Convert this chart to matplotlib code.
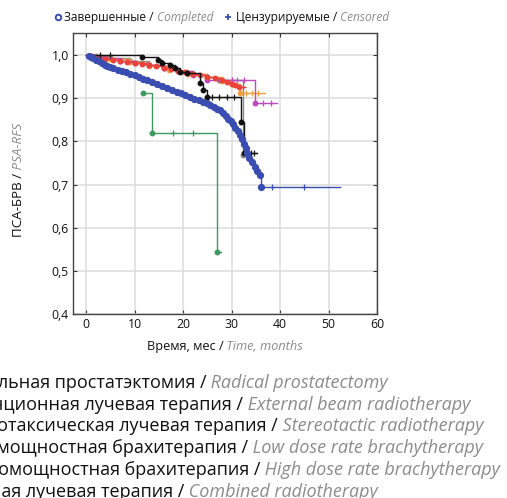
import matplotlib
matplotlib.use("Agg")
import matplotlib.pyplot as plt
from matplotlib.lines import Line2D

plt.rcParams['font.family'] = ['Open Sans', 'DejaVu Sans']

# ---------------- data ----------------
x_ticks = [0, 10, 20, 30, 40, 50, 60]
y_ticks = [0.4, 0.5, 0.6, 0.7, 0.8, 0.9, 1.0]
y_tick_labels = ["0,4", "0,5", "0,6", "0,7", "0,8", "0,9", "1,0"]

blue_t = [0.5, 1.0, 1.5, 2.0, 2.6, 3.2, 3.8, 4.4, 5.0, 5.6, 6.5, 7.4, 8.3, 9.1, 10.0,
          10.9, 11.8, 12.6, 13.6, 14.6, 15.6, 16.7, 17.7, 18.7, 19.6, 20.5, 21.4, 22.3,
          23.2, 24.1, 24.9, 25.6, 26.3, 27.0, 27.6, 28.2, 28.8, 29.3, 29.8, 30.3, 30.8,
          31.3, 31.8, 32.2, 32.6, 32.9, 33.2, 33.7, 34.2, 34.8, 35.3, 35.9, 36.0]
blue_s = [0.998, 0.995, 0.992, 0.989, 0.985, 0.981, 0.978, 0.975, 0.972, 0.969, 0.966,
          0.963, 0.960, 0.957, 0.953, 0.949, 0.945, 0.941, 0.937, 0.933, 0.929, 0.924,
          0.920, 0.915, 0.911, 0.907, 0.903, 0.899, 0.896, 0.892, 0.888, 0.884, 0.880,
          0.876, 0.872, 0.866, 0.859, 0.852, 0.846, 0.840, 0.832, 0.824, 0.815, 0.806,
          0.795, 0.784, 0.772, 0.762, 0.751, 0.741, 0.731, 0.721, 0.694]
blue_cens = [38.4, 45.0]
blue_end = 52.4

red_t = [1.2, 2.5, 4.0, 5.5, 7.0, 8.5, 10.0, 11.5, 13.0, 14.5, 16.0, 17.5, 19.0, 20.5,
         22.0, 23.5, 25.0, 26.5, 28.0, 29.0, 30.0, 30.8, 31.5]
red_s = [0.997, 0.994, 0.991, 0.988, 0.986, 0.984, 0.982, 0.980, 0.977, 0.974, 0.971,
         0.967, 0.963, 0.960, 0.957, 0.954, 0.950, 0.946, 0.942, 0.938, 0.934, 0.930, 0.926]
red_cens = [32.3]
red_end = 32.8

orange_t = [2, 5, 9, 13, 17, 21, 25, 28, 30, 31.8]
orange_s = [0.996, 0.990, 0.983, 0.975, 0.966, 0.957, 0.948, 0.940, 0.932, 0.912]
orange_cens = [33.0, 34.2, 35.5]
orange_end = 36.9

gray_t = [2, 5, 9, 13, 16, 19, 22, 25, 27.5, 32.4]
gray_s = [0.997, 0.992, 0.985, 0.978, 0.970, 0.962, 0.955, 0.948, 0.942, 0.768]
gray_cens = [30.0, 31.2, 33.0]
gray_end = 33.5

black_t = [11.5, 14.8, 15.7, 17.3, 18.4, 19.4, 20.8, 23.5, 24.1, 24.9, 32.0, 32.6]
black_s = [0.995, 0.988, 0.981, 0.977, 0.970, 0.961, 0.958, 0.935, 0.919, 0.903, 0.845, 0.773]
black_cens = [2.9, 4.9, 26.0, 27.5, 29.0, 30.5, 33.3, 34.0, 34.7]
black_end = 35.3

mag_t = [1.5, 4, 7, 10, 13, 16, 19, 22, 25, 34.8]
mag_s = [0.996, 0.992, 0.987, 0.982, 0.976, 0.970, 0.962, 0.954, 0.942, 0.889]
mag_cens = [27.5, 30.0, 32.5, 36.5, 38.2]
mag_end = 39.4

green_t = [11.8, 13.6, 27.0]
green_s = [0.912, 0.819, 0.544]
green_cens = [17.9, 22.0]
green_end = 27.8

legend_ru = ["Радикальная простатэктомия", "Дистанционная лучевая терапия",
             "Стереотаксическая лучевая терапия", "Низкомощностная брахитерапия",
             "Высокомощностная брахитерапия", "Комбинированная лучевая терапия"]
legend_en = ["Radical prostatectomy", "External beam radiotherapy",
             "Stereotactic radiotherapy", "Low dose rate brachytherapy",
             "High dose rate brachytherapy", "Combined radiotherapy"]

# ---------------- figure ----------------
W, H = 507, 498
fig = plt.figure(figsize=(W / 100, H / 100), dpi=100)
ax = fig.add_axes([73 / W, 1 - 314 / H, (377 - 73) / W, (314 - 33) / H])
ax.set_xlim(-2.7, 60)
ax.set_ylim(0.4, 1.051)
ax.set_xticks(x_ticks)
ax.set_yticks(y_ticks)
ax.set_yticklabels(y_tick_labels)
ax.grid(True, color='#dcdcdc', lw=1.1)
ax.set_axisbelow(True)
ax.tick_params(direction='in', length=3, width=0.8, top=True, right=True,
               labelsize=8.8, colors='#333333', labelcolor='#111111', pad=3)
for sp in ax.spines.values():
    sp.set_color('#444444')
    sp.set_linewidth(1.0)


def km(t, s, cens, end, color, start=True, ms=3.2, z=3):
    if start:
        xs = [0.0] + list(t) + [end]
        ys = [1.0] + list(s) + [s[-1]]
    else:
        xs = list(t) + [end]
        ys = list(s) + [s[-1]]
    ax.step(xs, ys, where='post', color=color, lw=1.0, zorder=z)
    ax.plot(t, s, 'o', color=color, ms=ms, mec=color, zorder=z + 0.1)
    # censored values lie on the step level at that time
    cy = []
    for c in cens:
        val = 1.0 if start else s[0]
        for ti, si in zip(t, s):
            if ti <= c:
                val = si
        cy.append(val)
    ax.plot(cens, cy, '+', color=color, ms=4, mew=0.9, zorder=z + 0.1)


km(green_t, green_s, green_cens, green_end, '#3c9a5f', start=False, z=3)
km(gray_t, gray_s, gray_cens, gray_end, '#8a8a8a', z=3.2)
km(orange_t, orange_s, orange_cens, orange_end, '#f0a040', z=3.4)
km(mag_t, mag_s, mag_cens, mag_end, '#c048c0', z=3.6)
km(red_t, red_s, red_cens, red_end, '#e8423a', z=3.8)
km(black_t, black_s, black_cens, black_end, '#111111', z=4.0)
km(blue_t, blue_s, blue_cens, blue_end, '#3a4db0', ms=4.2, z=4.2)

# ---------------- mixed-style text helper ----------------
renderer = fig.canvas.get_renderer()
GRAY = '#8c8c8c'


def mixed(x, y, parts, size, anchor='left', rot=0):
    texts, widths = [], []
    for s, style in parts:
        kw = dict(fontsize=size, color='#111111')
        if style == 'it':
            kw.update(color=GRAY, style='italic')
        t = fig.text(0, 0, s, **kw)
        widths.append(t.get_window_extent(renderer).width)
        texts.append(t)
    total = sum(widths)
    if anchor == 'center':
        pos = x - total / 2 if rot == 0 else y - total / 2
    elif anchor == 'right':
        pos = x - total
    else:
        pos = x if rot == 0 else y
    for t, w in zip(texts, widths):
        if rot == 0:
            t.set_position((pos / W, y / H))
            t.set_va('baseline')
        else:
            t.set_rotation(90)
            t.set_rotation_mode('anchor')
            t.set_position((x / W, pos / H))
            t.set_va('center')
        t.set_ha('left')
        pos += w
    return pos


# axis labels
mixed(225, H - 350, [("Время, мес /", 'n'), (" Time, months", 'it')], 9.2, anchor='center')
mixed(18, H - 180, [("ПСА-БРВ /", 'n'), (" PSA-RFS", 'it')], 9.6, anchor='center', rot=90)

# top legend
fig.add_artist(Line2D([58 / W], [1 - 17.5 / H], marker='o', ms=4, mfc='white',
                      mec='#3a4db0', mew=1.4, transform=fig.transFigure))
mixed(64, H - 21, [("Завершенные /", 'n'), (" Completed", 'it')], 8.6)
fig.add_artist(Line2D([228 / W], [1 - 17.5 / H], marker='+', ms=5, color='#3a4db0',
                      mew=1.3, transform=fig.transFigure))
mixed(236, H - 21, [("Цензурируемые /", 'n'), (" Censored", 'it')], 8.6)

# bottom legend (cut at the left edge in the original); right ends as in the picture
LEG_FS = 13.0
line_right = [388, 470, 483, 483, 500, 378]
for i, (ru, en) in enumerate(zip(legend_ru, legend_en)):
    mixed(line_right[i], H - (388 + i * 21.7), [(ru + " /", 'n'), (" " + en, 'it')],
          LEG_FS, anchor='right')

fig.savefig("out.png", dpi=100)
